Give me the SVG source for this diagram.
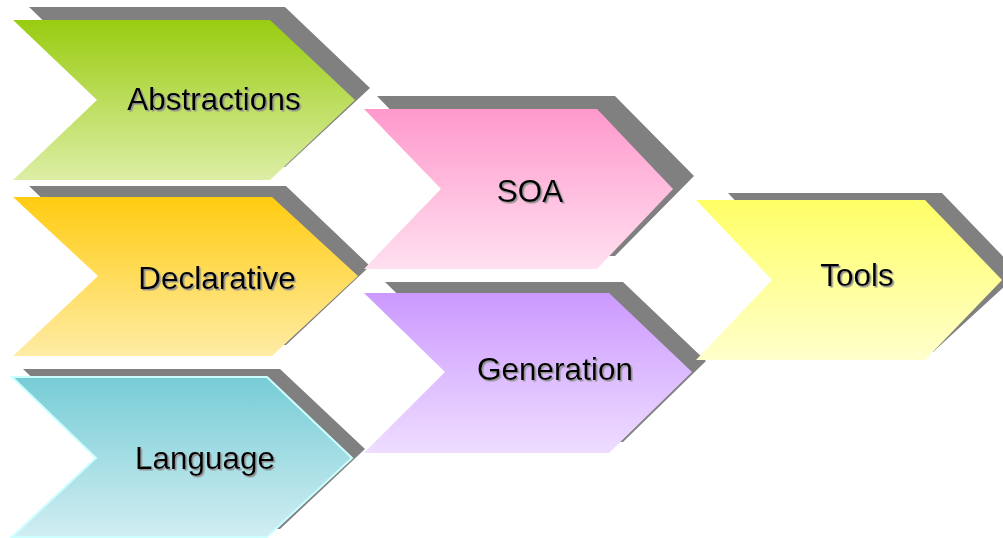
<svg xmlns="http://www.w3.org/2000/svg" width="1003" height="538" viewBox="0 0 1003 538">
<defs>
<linearGradient id="gA" x1="0" y1="0" x2="0" y2="1"><stop offset="0" stop-color="#99cc11"/><stop offset="1" stop-color="#ddeea5"/></linearGradient>
<linearGradient id="gD" x1="0" y1="0" x2="0" y2="1"><stop offset="0" stop-color="#ffcc11"/><stop offset="1" stop-color="#ffeca5"/></linearGradient>
<linearGradient id="gL" x1="0" y1="0" x2="0" y2="1"><stop offset="0" stop-color="#77ccd6"/><stop offset="1" stop-color="#d0eef2"/></linearGradient>
<linearGradient id="gS" x1="0" y1="0" x2="0" y2="1"><stop offset="0" stop-color="#ff99cc"/><stop offset="1" stop-color="#ffe0f0"/></linearGradient>
<linearGradient id="gG" x1="0" y1="0" x2="0" y2="1"><stop offset="0" stop-color="#cc99ff"/><stop offset="1" stop-color="#eeddff"/></linearGradient>
<linearGradient id="gT" x1="0" y1="0" x2="0" y2="1"><stop offset="0" stop-color="#ffff66"/><stop offset="1" stop-color="#ffffcc"/></linearGradient>
<filter id="ts" x="-10%" y="-20%" width="120%" height="150%"><feDropShadow dx="1.5" dy="1.5" stdDeviation="0.5" flood-color="#909090" flood-opacity="1"/></filter>
</defs>
<style>
.sh{fill:#808080}
.lbl{font-family:"Liberation Sans",Arial,sans-serif;font-size:31.5px;fill:#000;text-anchor:middle;filter:url(#ts)}
</style>
<rect width="1003" height="538" fill="#fff"/>
<g id="abstractions">
<polygon class="sh" points="29,7 285,7 370,88 285,167 29,167 113,88"/>
<polygon fill="url(#gA)" points="13,20 270,20 355,100 270,180 13,180 97,100"/>
<text class="lbl" x="214" y="110">Abstractions</text>
</g>
<g id="declarative">
<polygon class="sh" points="29,186 286,186 370,266 286,345 29,345 113,266"/>
<polygon fill="url(#gD)" points="13,197 272,197 358,276 272,356 13,356 98,276"/>
<text class="lbl" x="217" y="289">Declarative</text>
</g>
<g id="language">
<polygon class="sh" points="23,369 280,369 365,449 280,529 23,529 107,449"/>
<polygon fill="url(#gL)" stroke="#ccffff" stroke-width="2" points="12,377 267,377 352,458 267,537 12,537 96,458"/>
<text class="lbl" x="205" y="469">Language</text>
</g>
<g id="soa">
<polygon class="sh" points="377,96 615,96 694,176 615,256 377,256 454,176"/>
<polygon fill="url(#gS)" points="364,109 597,109 673,189 597,269 364,269 441,189"/>
<text class="lbl" x="530" y="202">SOA</text>
</g>
<g id="generation">
<polygon class="sh" points="385,282 623,282 706,361 623,442 385,442 466,361"/>
<polygon fill="url(#gG)" points="364,293 609,293 692,372 609,453 364,453 445,372"/>
<text class="lbl" x="555" y="380">Generation</text>
</g>
<g id="tools">
<polygon class="sh" points="728,193 942,193 1019,273 933,352 728,352 804,273"/>
<polygon fill="url(#gT)" points="696,200 925,200 1002,280 925,360 696,360 772,280"/>
<text class="lbl" x="857" y="286">Tools</text>
</g>
<g id="connectors"/>
</svg>
